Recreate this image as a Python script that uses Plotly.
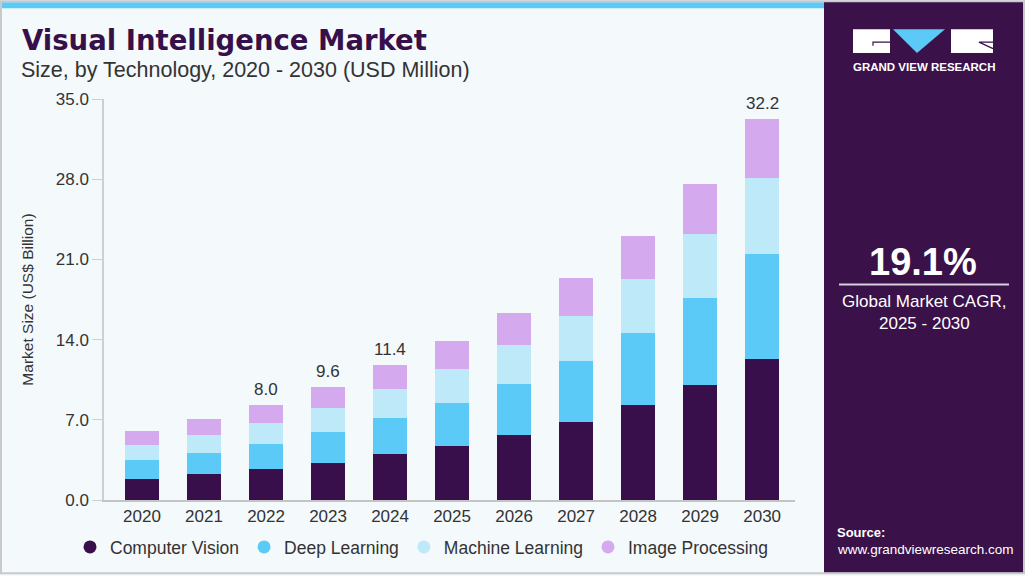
import plotly.graph_objects as go

# ---------------- data ----------------
years = ["2020", "2021", "2022", "2023", "2024", "2025", "2026", "2027", "2028", "2029", "2030"]
computer_vision = [1.87, 2.24, 2.71, 3.26, 3.98, 4.74, 5.70, 6.83, 8.30, 10.07, 12.28]
deep_learning = [1.59, 1.89, 2.20, 2.67, 3.19, 3.74, 4.43, 5.30, 6.29, 7.57, 9.16]
machine_learning = [1.34, 1.54, 1.80, 2.11, 2.50, 2.93, 3.39, 3.97, 4.70, 5.60, 6.67]
image_processing = [1.18, 1.39, 1.59, 1.83, 2.14, 2.43, 2.84, 3.24, 3.77, 4.35, 5.13]
series_names = ["Computer Vision", "Deep Learning", "Machine Learning", "Image Processing"]
label_years = ["2022", "2023", "2024", "2030"]
label_texts = ["8.0", "9.6", "11.4", "32.2"]
y_ticks = [0, 7, 14, 21, 28, 35]

colors = ["#380f4a", "#5ccaf6", "#bde9f9", "#d4a9ed"]
BG = "#f4f9fc"
PANEL = "#3a1149"
W, H = 1025, 576
ML, MR, MT, MB = 104, 230, 99, 75
PW = W - ML - MR
PH = H - MT - MB


def X(px):
    return (px - ML) / PW


def Y(py):
    return (H - MB - py) / PH


fig = go.Figure()
series = [computer_vision, deep_learning, machine_learning, image_processing]
for name, vals, col in zip(series_names, series, colors):
    fig.add_trace(go.Bar(x=years, y=vals, name=name, marker=dict(color=col, line=dict(width=0)),
                         width=0.55, showlegend=False, hoverinfo="x+y+name"))
# legend entries with circular markers
for name, col in zip(series_names, colors):
    fig.add_trace(go.Scatter(x=[None], y=[None], mode="markers", name=name,
                             marker=dict(color=col, size=13, symbol="circle")))

totals = [sum(v) for v in zip(*series)]
annotations = []
for yr, txt in zip(label_years, label_texts):
    i = years.index(yr)
    annotations.append(dict(x=i, y=totals[i], xref="x", yref="y", text=txt, showarrow=False,
                            yanchor="bottom", yshift=4,
                            font=dict(family="Liberation Sans", size=17, color="#333333")))

# titles
annotations.append(dict(x=X(20), y=Y(40), xref="paper", yref="paper", xanchor="left", yanchor="middle",
                        text="<b>Visual Intelligence Market</b>", showarrow=False,
                        font=dict(family="DejaVu Sans", size=27.5, color="#37104a")))
annotations.append(dict(x=X(19), y=Y(70), xref="paper", yref="paper", xanchor="left", yanchor="middle",
                        text="Size, by Technology, 2020 - 2030 (USD Million)", showarrow=False,
                        font=dict(family="Liberation Sans", size=21.5, color="#333333")))
# right panel texts
annotations.append(dict(x=X(924), y=Y(67), xref="paper", yref="paper", xanchor="center", yanchor="middle",
                        text="<b>GRAND VIEW RESEARCH</b>", showarrow=False,
                        font=dict(family="Liberation Sans", size=11.5, color="white")))
annotations.append(dict(x=X(923), y=Y(262), xref="paper", yref="paper", xanchor="center", yanchor="middle",
                        text="<b>19.1%</b>", showarrow=False,
                        font=dict(family="Liberation Sans", size=38, color="white")))
annotations.append(dict(x=X(924), y=Y(302), xref="paper", yref="paper", xanchor="center", yanchor="middle",
                        text="Global Market CAGR,", showarrow=False,
                        font=dict(family="Liberation Sans", size=17, color="white")))
annotations.append(dict(x=X(924), y=Y(324), xref="paper", yref="paper", xanchor="center", yanchor="middle",
                        text="2025 - 2030", showarrow=False,
                        font=dict(family="Liberation Sans", size=17, color="white")))
annotations.append(dict(x=X(835), y=Y(534), xref="paper", yref="paper", xanchor="left", yanchor="middle",
                        text="<b>Source:</b>", showarrow=False,
                        font=dict(family="Liberation Sans", size=13, color="white")))
annotations.append(dict(x=X(835), y=Y(551), xref="paper", yref="paper", xanchor="left", yanchor="middle",
                        text="www.grandviewresearch.com", showarrow=False,
                        font=dict(family="Liberation Sans", size=13.5, color="white")))

shapes = []
# top cyan stripe
shapes.append(dict(type="rect", xref="paper", yref="paper", x0=X(0), x1=X(824), y0=Y(2), y1=Y(8),
                   fillcolor="#5ccaf6", line=dict(width=0), layer="below"))
# right panel
shapes.append(dict(type="rect", xref="paper", yref="paper", x0=X(824), x1=X(1025), y0=Y(1), y1=Y(574),
                   fillcolor=PANEL, line=dict(width=0), layer="below"))
# outer border
shapes.append(dict(type="rect", xref="paper", yref="paper", x0=X(1), x1=X(1024), y0=Y(1), y1=Y(574.5),
                   fillcolor="rgba(0,0,0,0)", line=dict(width=2, color="#c9c9c9"), layer="above"))
# logo
shapes.append(dict(type="rect", xref="paper", yref="paper", x0=X(853), x1=X(890), y0=Y(29), y1=Y(53),
                   fillcolor="white", line=dict(width=0)))
shapes.append(dict(type="path", xref="paper", yref="paper",
                   path=f"M {X(873)},{Y(45.5)} L {X(873)},{Y(42)} L {X(890)},{Y(42)}",
                   line=dict(width=1.2, color=PANEL)))
shapes.append(dict(type="path", xref="paper", yref="paper",
                   path=f"M {X(893)},{Y(29)} L {X(945)},{Y(29)} L {X(917)},{Y(53)} Z",
                   fillcolor="#5ccaf6", line=dict(width=0)))
shapes.append(dict(type="rect", xref="paper", yref="paper", x0=X(951), x1=X(993), y0=Y(29), y1=Y(53),
                   fillcolor="white", line=dict(width=0)))
shapes.append(dict(type="path", xref="paper", yref="paper",
                   path=f"M {X(993)},{Y(42)} L {X(979)},{Y(42)} L {X(993)},{Y(48.5)}",
                   line=dict(width=1.2, color=PANEL)))
# CAGR divider
shapes.append(dict(type="line", xref="paper", yref="paper", x0=X(839), x1=X(1009), y0=Y(285), y1=Y(285),
                   line=dict(width=2, color="#d8d0dc")))

fig.update_layout(
    width=W, height=H, autosize=False,
    margin=dict(l=ML, r=MR, t=MT, b=MB, pad=0),
    paper_bgcolor=BG, plot_bgcolor=BG,
    barmode="stack", bargap=0.45,
    font=dict(family="Liberation Sans", color="#333333"),
    showlegend=True,
    legend=dict(orientation="h", x=X(70), y=Y(547), xanchor="left", yanchor="middle",
                font=dict(family="Liberation Sans", size=17.5, color="#333333"),
                bgcolor="rgba(0,0,0,0)", itemwidth=30, traceorder="normal"),
    annotations=annotations,
    shapes=shapes,
)
fig.update_xaxes(type="category", range=[-0.613, 10.53], showline=True, linecolor="#c4c4c4", linewidth=2,
                 ticks="", showgrid=False, zeroline=False, fixedrange=True,
                 tickfont=dict(family="Liberation Sans", size=17, color="#333333"))
fig.update_yaxes(range=[0, 35], tickvals=y_ticks, ticktext=[f"{v:.1f}" for v in y_ticks],
                 showline=True, linecolor="#cfcfcf", linewidth=1.5, ticks="outside", ticklen=10,
                 tickcolor="#cfcfcf", showgrid=False, zeroline=False, fixedrange=True,
                 tickfont=dict(family="Liberation Sans", size=17, color="#333333"),
                 title=dict(text="Market Size (US$ Billion)", standoff=18,
                            font=dict(family="Liberation Sans", size=15.5, color="#333333")))

fig.write_html("out.html", config={"displayModeBar": False},
               post_script="document.body.style.margin='0';document.body.style.overflow='hidden';")
